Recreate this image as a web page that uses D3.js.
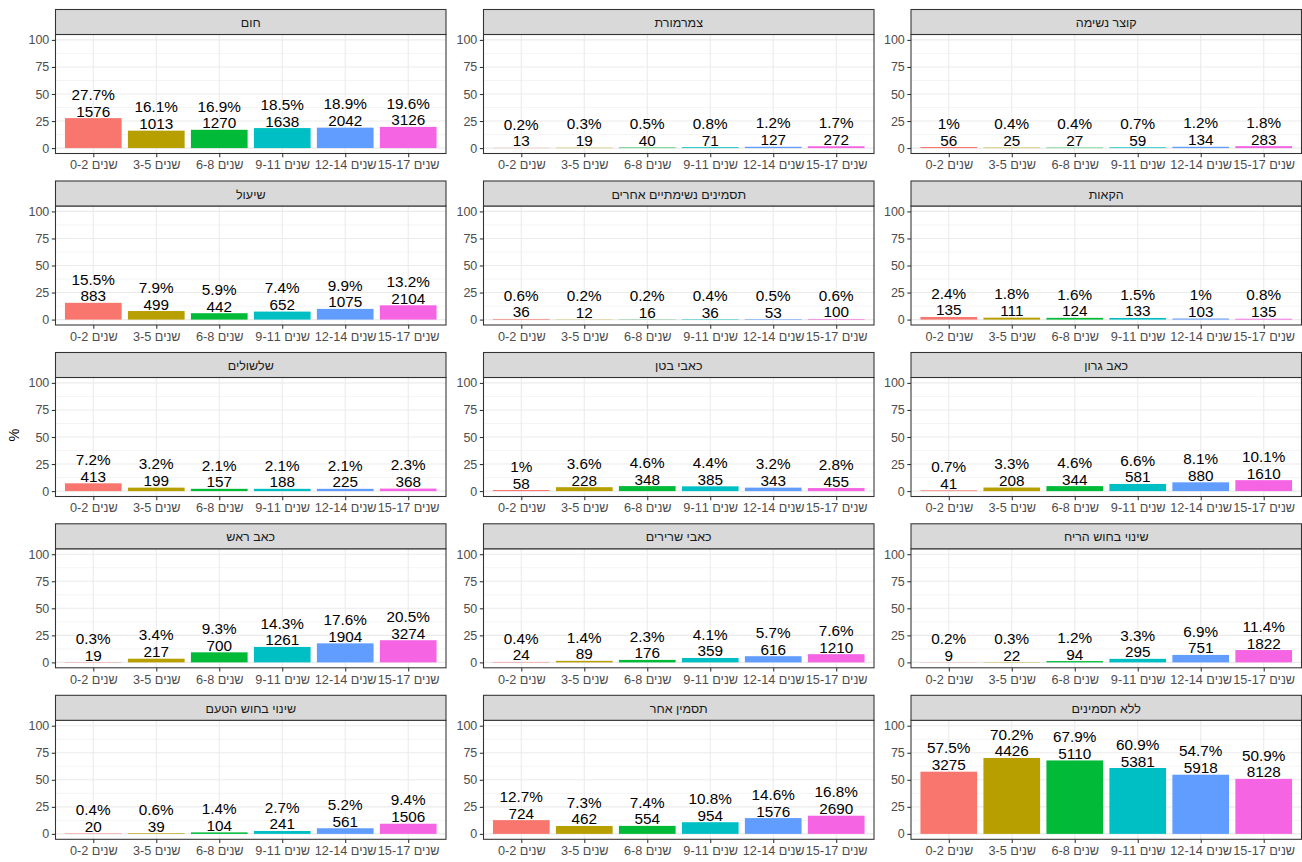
<!DOCTYPE html>
<html>
<head>
<meta charset="utf-8">
<script src="https://cdn.jsdelivr.net/npm/d3@7"></script>
<style>
  html, body { margin: 0; padding: 0; background: #fff; }
  svg { display: block; font-family: "Liberation Sans", Arial, sans-serif; }
</style>
</head>
<body>
<svg id="chart" width="1302" height="862"></svg>
<script>
// ---- data ----
const ageGroups = ["0-2 שנים", "3-5 שנים", "6-8 שנים", "9-11 שנים", "12-14 שנים", "15-17 שנים"];
const colors = ["#F8766D", "#B79F00", "#00BA38", "#00BFC4", "#619CFF", "#F564E3"];
const yTicks = [0, 25, 50, 75, 100];
const yMinorTicks = [12.5, 37.5, 62.5, 87.5];

// facets in visual order (row by row, left to right)
const symptoms = [
  "חום", "צמרמורת", "קוצר נשימה",
  "שיעול", "תסמינים נשימתיים אחרים", "הקאות",
  "שלשולים", "כאבי בטן", "כאב גרון",
  "כאב ראש", "כאבי שרירים", "שינוי בחוש הריח",
  "שינוי בחוש הטעם", "תסמין אחר", "ללא תסמינים"
];
const percents = [
  [27.7, 16.1, 16.9, 18.5, 18.9, 19.6],
  [0.2, 0.3, 0.5, 0.8, 1.2, 1.7],
  [1, 0.4, 0.4, 0.7, 1.2, 1.8],
  [15.5, 7.9, 5.9, 7.4, 9.9, 13.2],
  [0.6, 0.2, 0.2, 0.4, 0.5, 0.6],
  [2.4, 1.8, 1.6, 1.5, 1, 0.8],
  [7.2, 3.2, 2.1, 2.1, 2.1, 2.3],
  [1, 3.6, 4.6, 4.4, 3.2, 2.8],
  [0.7, 3.3, 4.6, 6.6, 8.1, 10.1],
  [0.3, 3.4, 9.3, 14.3, 17.6, 20.5],
  [0.4, 1.4, 2.3, 4.1, 5.7, 7.6],
  [0.2, 0.3, 1.2, 3.3, 6.9, 11.4],
  [0.4, 0.6, 1.4, 2.7, 5.2, 9.4],
  [12.7, 7.3, 7.4, 10.8, 14.6, 16.8],
  [57.5, 70.2, 67.9, 60.9, 54.7, 50.9]
];
const counts = [
  [1576, 1013, 1270, 1638, 2042, 3126],
  [13, 19, 40, 71, 127, 272],
  [56, 25, 27, 59, 134, 283],
  [883, 499, 442, 652, 1075, 2104],
  [36, 12, 16, 36, 53, 100],
  [135, 111, 124, 133, 103, 135],
  [413, 199, 157, 188, 225, 368],
  [58, 228, 348, 385, 343, 455],
  [41, 208, 344, 581, 880, 1610],
  [19, 217, 700, 1261, 1904, 3274],
  [24, 89, 176, 359, 616, 1210],
  [9, 22, 94, 295, 751, 1822],
  [20, 39, 104, 241, 561, 1506],
  [724, 462, 554, 954, 1576, 2690],
  [3275, 4426, 5110, 5381, 5918, 8128]
];

// ---- layout ----
const svg = d3.select("#chart");
const colLefts = [55.5, 483.5, 911];
const panelW = 390.5;
const rowTops = [9.5, 181, 352.5, 523.8, 695.3];
const stripH = 25;
const panelH = 119;
const font = '"Liberation Sans", Arial, sans-serif';

// y-axis title
svg.append("text")
  .attr("transform", "translate(19,435) rotate(-90)")
  .attr("text-anchor", "middle")
  .attr("font-size", 14.5)
  .attr("fill", "#000")
  .text("%");

symptoms.forEach((name, i) => {
  const col = i % 3, row = Math.floor(i / 3);
  const x0 = colLefts[col];
  const stripTop = rowTops[row];
  const pTop = stripTop + stripH;
  const pBot = pTop + panelH;

  // ggplot-like discrete axis: 0.6 expansion on each side, bar width 0.9
  const xc = d3.scalePoint().domain(ageGroups).range([x0, x0 + panelW]).padding(0.6);
  const barW = xc.step() * 0.9;

  const y = d3.scaleLinear().domain([-5, 105]).range([pBot, pTop]);

  const g = svg.append("g");

  g.append("rect").attr("x", x0).attr("y", pTop).attr("width", panelW).attr("height", panelH)
    .attr("fill", "#fff");

  // minor gridlines
  g.selectAll(".minor").data(yMinorTicks).enter().append("line")
    .attr("x1", x0).attr("x2", x0 + panelW)
    .attr("y1", d => y(d)).attr("y2", d => y(d))
    .attr("stroke", "#EBEBEB").attr("stroke-width", 0.55);
  // major gridlines
  g.selectAll(".majy").data(yTicks).enter().append("line")
    .attr("x1", x0).attr("x2", x0 + panelW)
    .attr("y1", d => y(d)).attr("y2", d => y(d))
    .attr("stroke", "#EBEBEB").attr("stroke-width", 1.07);
  g.selectAll(".majx").data(ageGroups).enter().append("line")
    .attr("x1", d => xc(d)).attr("x2", d => xc(d))
    .attr("y1", pTop).attr("y2", pBot)
    .attr("stroke", "#EBEBEB").attr("stroke-width", 1.07);

  // bars
  g.selectAll(".bar").data(ageGroups).enter().append("rect")
    .attr("x", d => xc(d) - barW / 2)
    .attr("width", barW)
    .attr("y", (d, j) => y(percents[i][j]))
    .attr("height", (d, j) => y(0) - y(percents[i][j]))
    .attr("fill", (d, j) => colors[j]);

  // labels
  const lab = g.selectAll(".lab").data(ageGroups).enter().append("text")
    .attr("text-anchor", "middle")
    .attr("font-size", 15.3)
    .attr("fill", "#000");
  lab.append("tspan")
    .attr("x", d => xc(d))
    .attr("y", (d, j) => y(percents[i][j]) - 1.5 - 16.8)
    .text((d, j) => percents[i][j] + "%");
  lab.append("tspan")
    .attr("x", d => xc(d))
    .attr("y", (d, j) => y(percents[i][j]) - 1.5)
    .text((d, j) => counts[i][j]);

  // panel border
  g.append("rect").attr("x", x0).attr("y", pTop).attr("width", panelW).attr("height", panelH)
    .attr("fill", "none").attr("stroke", "#333333").attr("stroke-width", 1.07);

  // strip
  g.append("rect").attr("x", x0).attr("y", stripTop).attr("width", panelW).attr("height", stripH)
    .attr("fill", "#D9D9D9").attr("stroke", "#333333").attr("stroke-width", 1.07);
  g.append("text")
    .attr("x", x0 + panelW / 2).attr("y", stripTop + 17.5)
    .attr("text-anchor", "middle")
    .attr("font-size", 12.5)
    .attr("fill", "#1A1A1A")
    .text(name);

  // y axis
  const yAxis = d3.axisLeft(y).tickValues(yTicks).tickSize(3.7).tickPadding(2.5);
  const ya = g.append("g").attr("transform", `translate(${x0},0)`).call(yAxis);
  ya.select(".domain").remove();
  ya.selectAll(".tick line").attr("stroke", "#333333").attr("stroke-width", 1.07);
  ya.selectAll(".tick text").attr("fill", "#4D4D4D").attr("font-size", 12.5).attr("font-family", font);

  // x axis
  const xAxis = d3.axisBottom(xc).tickSize(3.7).tickPadding(3);
  const xa = g.append("g").attr("transform", `translate(0,${pBot})`).call(xAxis);
  xa.select(".domain").remove();
  xa.selectAll(".tick line").attr("stroke", "#333333").attr("stroke-width", 1.07);
  xa.selectAll(".tick text").attr("fill", "#4D4D4D").attr("font-size", 12.7).attr("font-family", font);
});
</script>
</body>
</html>
